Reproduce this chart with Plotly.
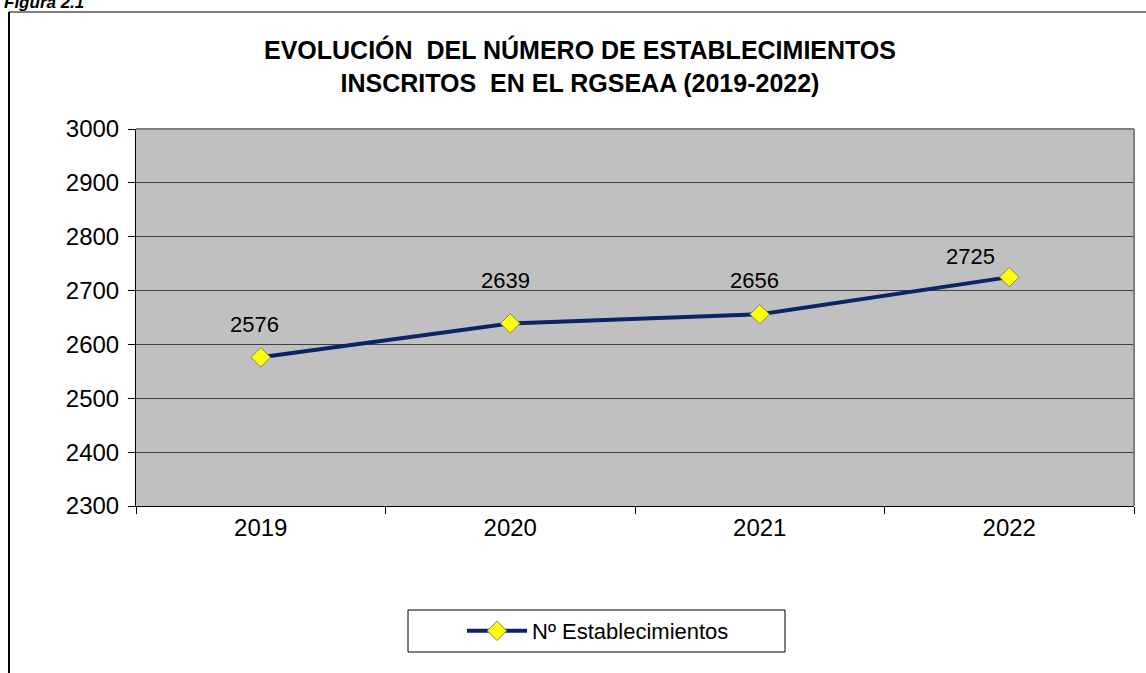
import plotly.graph_objects as go

years = ["2019", "2020", "2021", "2022"]
establecimientos = [2576, 2639, 2656, 2725]
y_ticks = [2300, 2400, 2500, 2600, 2700, 2800, 2900, 3000]

# label offsets (pixels) for data labels
label_dx = [-6, -5, -5, -39]
label_dy = [33, 43, 34, 21]

FONT = "Liberation Sans, Arial, sans-serif"

fig = go.Figure()
fig.add_trace(go.Scatter(
    x=years, y=establecimientos, mode="lines+markers",
    name="Nº Establecimientos",
    line=dict(color="#0A2466", width=4),
    marker=dict(symbol="diamond", size=15, color="#FFFF00",
                line=dict(color="#7F7F7F", width=1)),
))

for i, (v, dx, dy) in enumerate(zip(establecimientos, label_dx, label_dy)):
    fig.add_annotation(x=i, y=v, xref="x", yref="y", text=str(v), showarrow=False,
                       xshift=dx, yshift=dy,
                       font=dict(family=FONT, size=22, color="#000000"))

def px(x):
    return (x - 136) / 998

def py(y):
    return (506 - y) / 377

# Title
fig.add_annotation(xref="paper", yref="paper", x=px(580), y=py(66),
                   text="<b>EVOLUCIÓN  DEL NÚMERO DE ESTABLECIMIENTOS<br>INSCRITOS  EN EL RGSEAA (2019-2022)</b>",
                   showarrow=False, xanchor="center", yanchor="middle",
                   font=dict(family=FONT, size=25, color="#000000"))

# Figure label (partly cut off at top, as in the reference)
fig.add_annotation(xref="paper", yref="paper", x=px(2), y=py(2),
                   text="<b><i>Figura 2.1</i></b>", showarrow=False,
                   xanchor="left", yanchor="middle",
                   font=dict(family=FONT, size=17, color="#000000"))

shapes = [
    # outer frame
    dict(type="line", xref="paper", yref="paper", x0=px(9), x1=px(9), y0=py(12), y1=py(680),
         line=dict(color="#000000", width=2)),
    dict(type="line", xref="paper", yref="paper", x0=px(9), x1=px(1150), y0=py(12), y1=py(12),
         line=dict(color="#000000", width=1)),
    # plot right/top border gray
    dict(type="line", xref="paper", yref="paper", x0=1, x1=1, y0=0, y1=1,
         line=dict(color="#808080", width=2)),
    dict(type="line", xref="paper", yref="paper", x0=0, x1=1, y0=1, y1=1,
         line=dict(color="#808080", width=2)),
    # legend box
    dict(type="rect", xref="paper", yref="paper", x0=px(408), x1=px(785), y0=py(652), y1=py(610),
         line=dict(color="#000000", width=1), fillcolor="#FFFFFF", layer="below"),
]

fig.update_layout(
    width=1146, height=673,
    margin=dict(l=136, r=12, t=129, b=167),
    paper_bgcolor="#FFFFFF", plot_bgcolor="#C0C0C0",
    font=dict(family=FONT, size=21, color="#000000"),
    shapes=shapes,
    showlegend=True,
    legend=dict(x=px(598), y=py(631), xanchor="center", yanchor="middle",
                orientation="h", bgcolor="rgba(0,0,0,0)", borderwidth=0,
                font=dict(family=FONT, size=22, color="#000000"),
                itemwidth=60),
    xaxis=dict(type="category", range=[-0.5, 3.5], tickson="boundaries",
               ticks="outside", ticklen=7, tickcolor="#000000",
               showline=True, linecolor="#000000", linewidth=1,
               showgrid=False, tickfont=dict(family=FONT, size=24), fixedrange=True),
    yaxis=dict(range=[2300, 3000], tickvals=y_ticks, ticks="outside", ticklen=7,
               tickcolor="#000000", showline=True, linecolor="#000000", linewidth=1,
               showgrid=True, gridcolor="#404040", gridwidth=1,
               tickfont=dict(family=FONT, size=24), ticklabelstandoff=4, zeroline=False),
)

fig.write_html("out.html", config={"displayModeBar": False},
               post_script="document.body.style.margin='0px';")
